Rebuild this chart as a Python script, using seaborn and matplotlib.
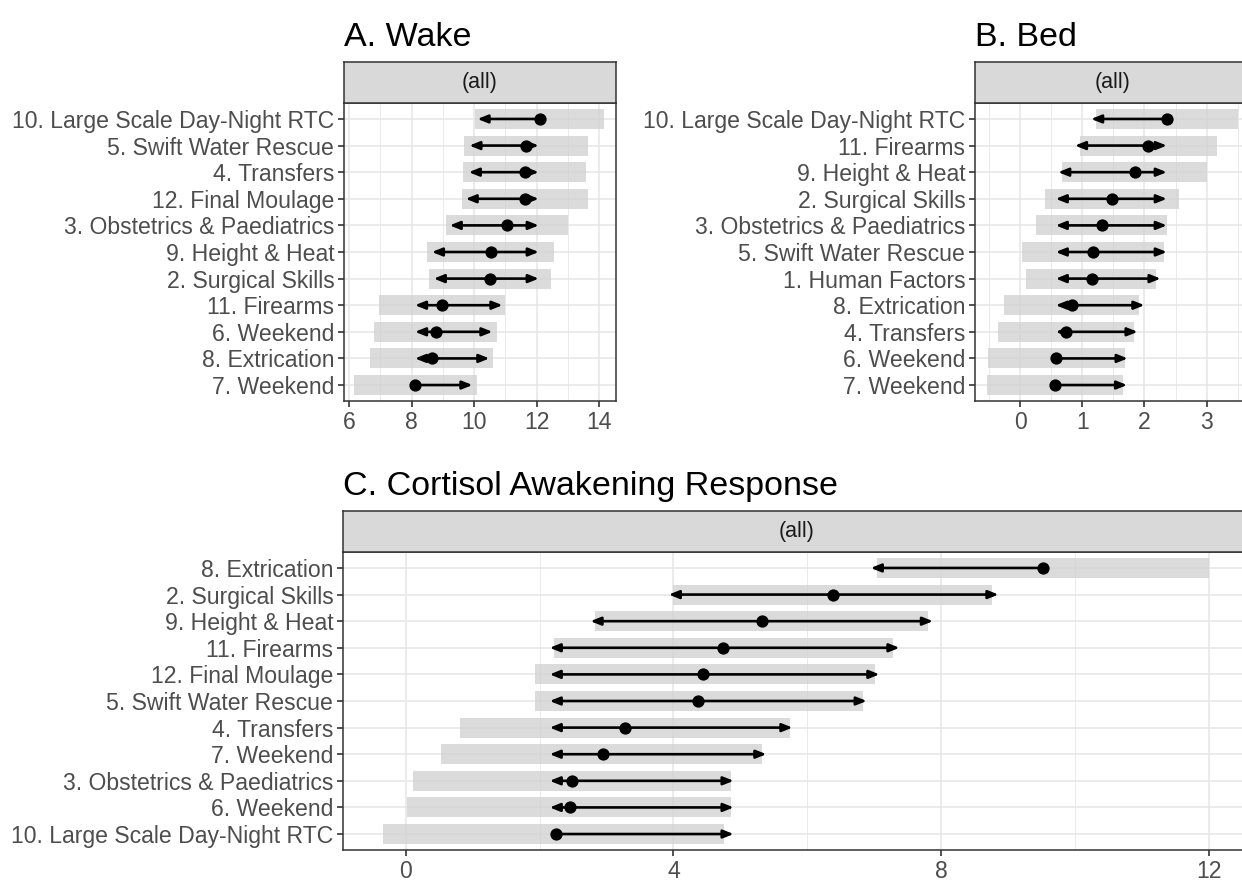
import numpy as np
import pandas as pd
import matplotlib
matplotlib.use("Agg")
import matplotlib.pyplot as plt
import seaborn as sns

# ── data: emmeans (estimate, CI, comparison arrows) ─────────────────────
labels_A = ["10. Large Scale Day-Night RTC", "5. Swift Water Rescue", "4. Transfers",
            "12. Final Moulage", "3. Obstetrics & Paediatrics", "9. Height & Heat",
            "2. Surgical Skills", "11. Firearms", "6. Weekend", "8. Extrication", "7. Weekend"]
est_A = [12.10, 11.65, 11.63, 11.63, 11.06, 10.55, 10.51, 8.99, 8.77, 8.65, 8.11]
lo_A = [10.04, 9.69, 9.66, 9.60, 9.09, 8.49, 8.56, 6.97, 6.81, 6.68, 6.17]
hi_A = [14.17, 13.63, 13.57, 13.66, 12.99, 12.56, 12.45, 11.00, 10.74, 10.61, 10.11]
arrL_A = [10.11, 9.85, 9.83, 9.73, 9.22, 8.65, 8.71, 8.11, 8.11, 8.11, np.nan]
arrR_A = [np.nan, 12.07, 12.07, 12.07, 12.07, 12.07, 12.07, 10.91, 10.59, 10.49, 9.95]

labels_B = ["10. Large Scale Day-Night RTC", "11. Firearms", "9. Height & Heat",
            "2. Surgical Skills", "3. Obstetrics & Paediatrics", "5. Swift Water Rescue",
            "1. Human Factors", "8. Extrication", "4. Transfers", "6. Weekend", "7. Weekend"]
est_B = [2.37, 2.06, 1.84, 1.47, 1.31, 1.17, 1.15, 0.83, 0.73, 0.57, 0.56]
lo_B = [1.22, 0.96, 0.67, 0.40, 0.25, 0.03, 0.09, -0.26, -0.36, -0.52, -0.53]
hi_B = [3.50, 3.17, 3.00, 2.55, 2.37, 2.31, 2.19, 1.91, 1.83, 1.68, 1.65]
arrL_B = [1.14, 0.88, 0.61, 0.57, 0.57, 0.57, 0.57, 0.57, 0.57, np.nan, np.nan]
arrR_B = [np.nan, 2.36, 2.36, 2.36, 2.36, 2.36, 2.26, 2.00, 1.89, 1.73, 1.72]

labels_C = ["8. Extrication", "2. Surgical Skills", "9. Height & Heat", "11. Firearms",
            "12. Final Moulage", "5. Swift Water Rescue", "4. Transfers", "7. Weekend",
            "3. Obstetrics & Paediatrics", "6. Weekend", "10. Large Scale Day-Night RTC"]
est_C = [9.53, 6.39, 5.32, 4.74, 4.44, 4.37, 3.27, 2.95, 2.49, 2.45, 2.24]
lo_C = [7.05, 4.00, 2.83, 2.21, 1.93, 1.93, 0.81, 0.52, 0.11, 0.02, -0.34]
hi_C = [12.00, 8.77, 7.81, 7.29, 7.01, 6.83, 5.74, 5.33, 4.86, 4.86, 4.75]
arrL_C = [6.95, 3.93, 2.76, 2.15, 2.15, 2.15, 2.15, 2.15, 2.15, 2.15, np.nan]
arrR_C = [np.nan, 8.86, 7.88, 7.38, 7.08, 6.89, 5.78, 5.39, 4.90, 4.90, 4.90]

sns.set_theme(style="white")
plt.rcParams['font.family'] = ['Liberation Sans', 'DejaVu Sans']

GREY20 = "#333333"
GREY30 = "#4D4D4D"
GRID = "#E6E6E6"


def draw_panel(fig, rect, title, labels, est, lo, hi, arrL, arrR, xlim, major, minor):
    df = pd.DataFrame({"label": labels, "est": est, "lo": lo, "hi": hi,
                       "arrL": arrL, "arrR": arrR})
    df["pos"] = np.arange(len(df))

    ax = fig.add_axes(rect)
    ax.set_xlim(*xlim)
    ax.set_ylim(len(df) - 0.4, -0.6)

    # grid
    for v in minor:
        ax.axvline(v, color=GRID, lw=0.6, zorder=0)
    for v in major:
        ax.axvline(v, color=GRID, lw=1.1, zorder=0)
    for p in df["pos"]:
        ax.axhline(p, color=GRID, lw=1.1, zorder=0)

    # CI bars
    ax.barh(df["pos"], df["hi"] - df["lo"], left=df["lo"], height=0.75,
            color="#D2D2D2", alpha=0.8, zorder=1, linewidth=0)

    # comparison arrows
    for _, r in df.iterrows():
        for end in (r["arrL"], r["arrR"]):
            if np.isnan(end):
                continue
            ax.annotate("", xy=(end, r["pos"]), xytext=(r["est"], r["pos"]),
                        arrowprops=dict(arrowstyle="-|>,head_length=0.6,head_width=0.24",
                                        color="black", lw=1.9, shrinkA=0, shrinkB=0,
                                        mutation_scale=10),
                        zorder=2)

    sns.scatterplot(data=df, x="est", y="pos", color="black", s=78,
                    edgecolor="black", linewidth=0, ax=ax, zorder=3)

    ax.set_yticks(df["pos"])
    ax.set_yticklabels(df["label"])
    ax.set_xticks(major)
    ax.set_xticklabels([f"{v:g}" for v in major])
    ax.set_xlabel("")
    ax.set_ylabel("")
    ax.tick_params(axis="both", which="major", length=4, width=1.2, color=GREY20,
                   labelsize=16.6, labelcolor=GREY30, pad=3, left=True, bottom=True)
    for s in ax.spines.values():
        s.set_color(GREY20)
        s.set_linewidth(1.1)

    # strip
    strip_h = 41 / 882
    sax = fig.add_axes([rect[0], rect[1] + rect[3], rect[2], strip_h])
    sax.set_facecolor("#D9D9D9")
    sax.set_xticks([])
    sax.set_yticks([])
    for s in sax.spines.values():
        s.set_color(GREY20)
        s.set_linewidth(1.1)
    sax.text(0.5, 0.5, "(all)", transform=sax.transAxes, ha="center", va="center",
             fontsize=15.5, color="#1A1A1A")

    fig.text(rect[0], rect[1] + rect[3] + strip_h + 16 / 882, title,
             fontsize=24.5, color="black", ha="left", va="baseline")
    return ax


fig = plt.figure(figsize=(12.42, 8.82), dpi=100)

ph = 298 / 882
draw_panel(fig, [344 / 1242, 1 - 401 / 882, 272 / 1242, ph], "A. Wake",
           labels_A, est_A, lo_A, hi_A, arrL_A, arrR_A,
           (5.84, 14.54), [6, 8, 10, 12, 14], [7, 9, 11, 13])
draw_panel(fig, [975 / 1242, 1 - 401 / 882, 275 / 1242, ph], "B. Bed",
           labels_B, est_B, lo_B, hi_B, arrL_B, arrR_B,
           (-0.73, 3.70), [0, 1, 2, 3], [-0.5, 0.5, 1.5, 2.5, 3.5])
draw_panel(fig, [343 / 1242, 1 - 850 / 882, 907 / 1242, ph], "C. Cortisol Awakening Response",
           labels_C, est_C, lo_C, hi_C, arrL_C, arrR_C,
           (-0.94, 12.62), [0, 4, 8, 12], [2, 6, 10])

fig.savefig("out.png", dpi=100)
